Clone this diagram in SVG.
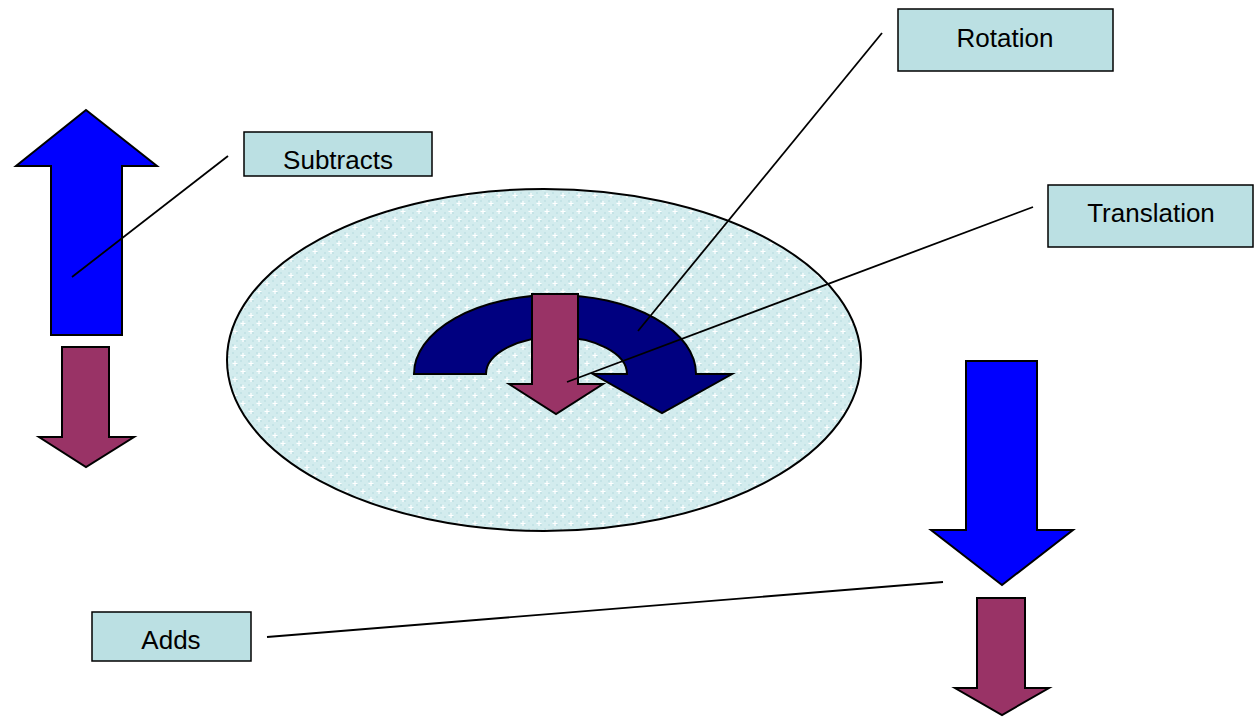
<svg xmlns="http://www.w3.org/2000/svg" width="1260" height="718" viewBox="0 0 1260 718">
<style>
.lbl{fill:#BBE0E3;stroke:#000;stroke-width:1.5}
.txt{font-family:"Liberation Sans",Arial,sans-serif;font-size:26px;fill:#000;text-anchor:middle}
.blue{fill:#0000FF;stroke:#000;stroke-width:2;stroke-linejoin:miter}
.purple{fill:#993366;stroke:#000;stroke-width:2;stroke-linejoin:miter}
.navy{fill:#000080;stroke:#000;stroke-width:2;stroke-linejoin:miter}
.conn{stroke:#000;stroke-width:1.8;fill:none}
</style>
<defs>
<pattern id="dots" width="16" height="16" patternUnits="userSpaceOnUse">
<rect width="16" height="16" fill="#D3ECEE"/>
<rect x="0" y="0" width="2" height="2" fill="#C4E3E6"/>
<rect x="4" y="4" width="2" height="2" fill="#C4E3E6"/>
<rect x="8" y="8" width="2" height="2" fill="#C4E3E6"/>
<rect x="12" y="12" width="2" height="2" fill="#C4E3E6"/>
<rect x="8" y="0" width="2" height="2" fill="#C4E3E6"/>
<rect x="0" y="8" width="2" height="2" fill="#C4E3E6"/>
<rect x="12" y="4" width="2" height="2" fill="#C4E3E6"/>
<rect x="4" y="12" width="2" height="2" fill="#C4E3E6"/>
<path d="M3 1v5M0.5 3.5h5M11 9v5M8.5 11.5h5" stroke="#FFFFFF" stroke-width="1.2"/>
</pattern>
</defs>
<rect width="1260" height="718" fill="#FFFFFF"/>
<g id="disc">
<ellipse cx="544" cy="360" rx="317" ry="171" fill="url(#dots)" stroke="#000" stroke-width="2"/>
</g>
<g id="rotation-arrow">
<path class="navy" d="M414,374 A141,79 0 0 1 696,374 L732,374 L662,413 L593,374 L627,374 A70.5,37 0 0 0 486,374 Z"/>
</g>
<g id="translation-arrow">
<path class="purple" d="M532,294 L578,294 L578,384 L603,384 L556,414 L509,384 L532,384 Z"/>
</g>
<g id="up-arrow-left">
<path class="blue" d="M86,110 L157,166 L122,166 L122,335 L51,335 L51,166 L16,166 Z"/>
</g>
<g id="down-arrow-left">
<path class="purple" d="M62,347 L109,347 L109,437 L134,437 L86,467 L39,437 L62,437 Z"/>
</g>
<g id="down-arrow-right-blue">
<path class="blue" d="M966,361 L1037,361 L1037,530 L1073,530 L1002,585 L931,530 L966,530 Z"/>
</g>
<g id="down-arrow-right-purple">
<path class="purple" d="M977,598 L1025,598 L1025,688 L1049,688 L1002,715 L955,688 L977,688 Z"/>
</g>
<g id="connectors">
<line class="conn" x1="228" y1="156" x2="72" y2="277"/>
<line class="conn" x1="882" y1="33" x2="638" y2="331"/>
<line class="conn" x1="1033" y1="207" x2="567" y2="382"/>
<line class="conn" x1="267" y1="637" x2="943" y2="582"/>
</g>
<g id="label-rotation">
<rect class="lbl" x="898" y="9" width="215" height="62"/>
<text class="txt" x="1005" y="47">Rotation</text>
</g>
<g id="label-translation">
<rect class="lbl" x="1048" y="185" width="205" height="62"/>
<text class="txt" x="1151" y="222">Translation</text>
</g>
<g id="label-subtracts">
<rect class="lbl" x="244" y="132" width="188" height="44"/>
<text class="txt" x="338" y="169">Subtracts</text>
</g>
<g id="label-adds">
<rect class="lbl" x="92" y="612" width="159" height="49"/>
<text class="txt" x="171" y="649">Adds</text>
</g>
</svg>
